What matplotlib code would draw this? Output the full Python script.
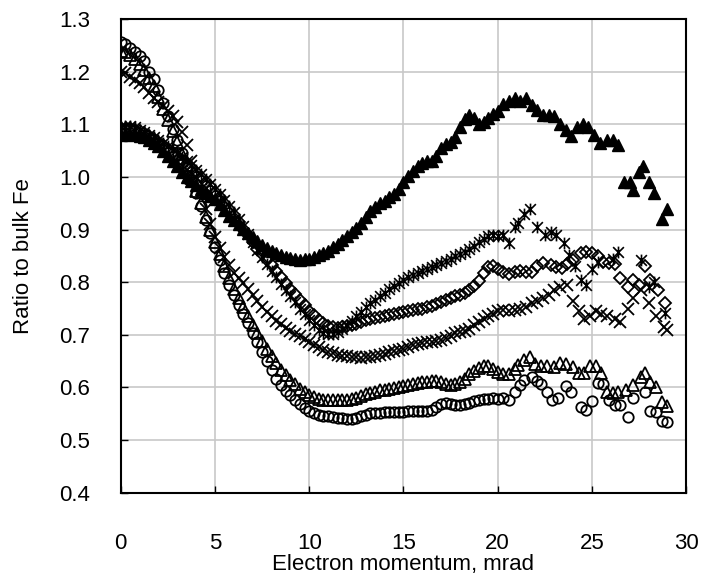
#!/usr/bin/env python
import numpy as np
import matplotlib
matplotlib.use("Agg")
import matplotlib.pyplot as plt
from matplotlib.path import Path

plt.rcParams['font.family'] = ['Liberation Sans', 'DejaVu Sans']

# momentum grid of the dense part (mrad), 0 .. 19.75
x_dense = np.arange(80) * 0.25

# filled triangles
tri_f = [1.080, 1.082, 1.080, 1.081, 1.078, 1.075, 1.070, 1.064, 1.058, 1.050,
         1.040, 1.030, 1.020, 1.010, 1.000, 0.993, 0.985, 0.978, 0.970, 0.964,
         0.958, 0.948, 0.937, 0.926, 0.918, 0.910, 0.901, 0.893, 0.886, 0.879,
         0.871, 0.865, 0.860, 0.855, 0.851, 0.848, 0.846, 0.844, 0.843, 0.844,
         0.845, 0.848, 0.851, 0.855, 0.860, 0.866, 0.873, 0.880, 0.888, 0.895,
         0.903, 0.913, 0.923, 0.935, 0.943, 0.950, 0.955, 0.962, 0.968, 0.978,
         0.990, 1.002, 1.012, 1.020, 1.027, 1.030, 1.031, 1.040, 1.055, 1.062,
         1.066, 1.075, 1.095, 1.110, 1.118, 1.112, 1.100, 1.104, 1.112, 1.120]
tri_f_tx = [20.0, 20.3, 20.6, 20.9, 21.2, 21.5, 21.8, 22.1, 22.4, 22.7, 23.0, 23.3,
            23.6, 23.9, 24.2, 24.5, 24.8, 25.1, 25.4, 25.8, 26.1, 26.4, 26.7, 27.0,
            27.2, 27.5, 27.7, 28.0, 28.3, 28.7, 29.0]
tri_f_ty = [1.125, 1.138, 1.145, 1.150, 1.145, 1.150, 1.137, 1.128, 1.118, 1.118, 1.115, 1.100,
            1.090, 1.078, 1.095, 1.100, 1.095, 1.080, 1.065, 1.070, 1.070, 1.060, 0.990, 0.990,
            0.975, 1.010, 1.020, 0.990, 0.970, 0.920, 0.940]

# asterisks
star = [1.095, 1.097, 1.096, 1.094, 1.090, 1.086, 1.080, 1.075, 1.070, 1.064,
        1.058, 1.051, 1.045, 1.038, 1.031, 1.023, 1.014, 1.005, 0.996, 0.987,
        0.977, 0.967, 0.957, 0.945, 0.933, 0.920, 0.906, 0.891, 0.876, 0.861,
        0.847, 0.834, 0.822, 0.810, 0.797, 0.785, 0.774, 0.762, 0.750, 0.739,
        0.728, 0.718, 0.710, 0.704, 0.701, 0.702, 0.706, 0.712, 0.719, 0.727,
        0.735, 0.744, 0.752, 0.760, 0.767, 0.774, 0.780, 0.787, 0.793, 0.799,
        0.804, 0.809, 0.813, 0.817, 0.821, 0.825, 0.829, 0.833, 0.837, 0.841,
        0.845, 0.849, 0.853, 0.858, 0.863, 0.869, 0.876, 0.882, 0.887, 0.889]
star_tx = [20.0, 20.3, 20.6, 20.9, 21.1, 21.4, 21.7, 22.1, 22.5, 22.8, 23.1, 23.5,
           23.8, 24.1, 24.4, 24.7, 25.0, 25.3, 26.1, 26.4, 27.6, 28.0, 28.3, 28.9]
star_ty = [0.888, 0.890, 0.875, 0.905, 0.912, 0.930, 0.940, 0.905, 0.890, 0.895, 0.890, 0.875,
           0.852, 0.830, 0.805, 0.795, 0.825, 0.838, 0.845, 0.858, 0.843, 0.790, 0.800, 0.742]

# open diamonds
diam = [1.090, 1.092, 1.091, 1.090, 1.087, 1.083, 1.078, 1.072, 1.066, 1.060,
        1.053, 1.046, 1.039, 1.032, 1.025, 1.017, 1.009, 1.000, 0.991, 0.982,
        0.972, 0.962, 0.951, 0.940, 0.928, 0.915, 0.902, 0.889, 0.876, 0.864,
        0.853, 0.843, 0.832, 0.821, 0.810, 0.799, 0.788, 0.777, 0.766, 0.756,
        0.746, 0.737, 0.729, 0.722, 0.717, 0.714, 0.713, 0.714, 0.716, 0.718,
        0.721, 0.725, 0.728, 0.730, 0.732, 0.733, 0.735, 0.737, 0.739, 0.741,
        0.743, 0.745, 0.747, 0.749, 0.750, 0.752, 0.754, 0.758, 0.763, 0.767,
        0.770, 0.773, 0.776, 0.780, 0.785, 0.793, 0.803, 0.817, 0.828, 0.830]
diam_tx = [20.0, 20.3, 20.6, 20.9, 21.2, 21.5, 21.8, 22.1, 22.4, 22.8, 23.1, 23.4,
           23.7, 24.0, 24.4, 24.7, 25.0, 25.3, 25.6, 25.9, 26.2, 26.5, 26.9, 27.2,
           27.5, 27.8, 28.1, 28.5, 28.9]
diam_ty = [0.826, 0.820, 0.816, 0.820, 0.822, 0.820, 0.820, 0.830, 0.837, 0.833, 0.828, 0.827,
           0.835, 0.842, 0.855, 0.858, 0.855, 0.850, 0.838, 0.836, 0.835, 0.808, 0.790, 0.805,
           0.795, 0.830, 0.805, 0.786, 0.760]

# crosses
cross = [1.200, 1.198, 1.190, 1.184, 1.178, 1.170, 1.160, 1.150, 1.142, 1.134,
         1.126, 1.115, 1.105, 1.085, 1.060, 1.030, 1.000, 0.970, 0.940, 0.910,
         0.885, 0.865, 0.848, 0.832, 0.818, 0.808, 0.798, 0.787, 0.776, 0.765,
         0.753, 0.743, 0.735, 0.727, 0.720, 0.713, 0.707, 0.702, 0.697, 0.692,
         0.686, 0.681, 0.676, 0.672, 0.668, 0.665, 0.662, 0.660, 0.659, 0.657,
         0.657, 0.656, 0.657, 0.658, 0.659, 0.662, 0.664, 0.667, 0.670, 0.672,
         0.674, 0.677, 0.680, 0.682, 0.684, 0.686, 0.687, 0.688, 0.690, 0.694,
         0.698, 0.703, 0.705, 0.708, 0.712, 0.718, 0.725, 0.730, 0.735, 0.740]
cross_tx = [20.0, 20.3, 20.6, 20.9, 21.2, 21.5, 21.8, 22.1, 22.4, 22.7, 23.0, 23.3,
            23.7, 24.0, 24.3, 24.6, 24.9, 25.2, 25.5, 25.8, 26.2, 26.5, 26.9, 27.2,
            27.6, 28.0, 28.4, 28.8, 29.0]
cross_ty = [0.745, 0.748, 0.745, 0.748, 0.750, 0.752, 0.760, 0.765, 0.770, 0.775, 0.785, 0.790,
            0.795, 0.765, 0.745, 0.730, 0.735, 0.745, 0.740, 0.735, 0.730, 0.725, 0.750, 0.770,
            0.785, 0.760, 0.735, 0.715, 0.710]

# open triangles
tri_o = [1.240, 1.238, 1.232, 1.225, 1.215, 1.203, 1.188, 1.172, 1.152, 1.130,
         1.108, 1.087, 1.066, 1.044, 1.022, 0.998, 0.974, 0.950, 0.924, 0.900,
         0.876, 0.853, 0.830, 0.808, 0.788, 0.770, 0.753, 0.736, 0.719, 0.703,
         0.688, 0.673, 0.659, 0.646, 0.634, 0.624, 0.614, 0.606, 0.598, 0.591,
         0.586, 0.582, 0.579, 0.577, 0.576, 0.576, 0.577, 0.576, 0.577, 0.578,
         0.580, 0.583, 0.587, 0.590, 0.592, 0.595, 0.596, 0.597, 0.599, 0.601,
         0.603, 0.605, 0.607, 0.609, 0.610, 0.611, 0.612, 0.612, 0.610, 0.606,
         0.604, 0.607, 0.611, 0.617, 0.625, 0.632, 0.637, 0.640, 0.641, 0.636]
tri_o_tx = [20.0, 20.3, 20.6, 20.9, 21.1, 21.4, 21.7, 22.0, 22.3, 22.6, 23.0, 23.3,
            23.6, 24.0, 24.3, 24.6, 24.9, 25.2, 25.5, 25.8, 26.1, 26.4, 26.8, 27.2,
            27.6, 27.8, 28.1, 28.4, 28.7, 29.0]
tri_o_ty = [0.630, 0.625, 0.625, 0.635, 0.642, 0.653, 0.657, 0.645, 0.640, 0.640, 0.638, 0.647,
            0.645, 0.638, 0.628, 0.628, 0.640, 0.640, 0.628, 0.592, 0.590, 0.592, 0.596, 0.605,
            0.620, 0.628, 0.611, 0.600, 0.573, 0.565]

# open circles
circ = [1.256, 1.252, 1.245, 1.238, 1.230, 1.220, 1.200, 1.186, 1.165, 1.140,
        1.115, 1.092, 1.070, 1.045, 1.020, 0.995, 0.970, 0.945, 0.918, 0.893,
        0.866, 0.842, 0.818, 0.795, 0.775, 0.756, 0.740, 0.722, 0.703, 0.686,
        0.668, 0.650, 0.633, 0.617, 0.604, 0.594, 0.585, 0.577, 0.569, 0.561,
        0.555, 0.551, 0.548, 0.546, 0.545, 0.543, 0.542, 0.542, 0.541, 0.541,
        0.542, 0.545, 0.548, 0.551, 0.551, 0.552, 0.553, 0.554, 0.554, 0.553,
        0.554, 0.555, 0.556, 0.555, 0.556, 0.555, 0.558, 0.563, 0.568, 0.570,
        0.568, 0.566, 0.566, 0.568, 0.571, 0.574, 0.577, 0.578, 0.578, 0.580]
circ_tx = [20.0, 20.3, 20.6, 20.9, 21.2, 21.4, 21.8, 22.1, 22.3, 22.6, 22.9, 23.2,
           23.6, 23.9, 24.4, 24.7, 25.0, 25.3, 25.6, 25.9, 26.2, 26.5, 26.9, 27.2,
           27.8, 28.1, 28.4, 28.7, 29.0]
circ_ty = [0.578, 0.580, 0.577, 0.592, 0.605, 0.615, 0.619, 0.612, 0.606, 0.592, 0.577, 0.580,
           0.602, 0.592, 0.563, 0.558, 0.575, 0.609, 0.606, 0.577, 0.567, 0.567, 0.543, 0.580,
           0.592, 0.556, 0.553, 0.536, 0.535]

# X plus vertical bar, like the spreadsheet "star" marker
star_marker = Path([(-1, -1), (1, 1), (-1, 1), (1, -1), (0, -1.1), (0, 1.1)],
                   [Path.MOVETO, Path.LINETO, Path.MOVETO, Path.LINETO, Path.MOVETO, Path.LINETO])

fig = plt.figure(figsize=(7.06, 5.77), dpi=100)
ax = fig.add_axes([0.171, 0.146, 0.801, 0.821])

def series(xa, ya, xt, yt, **kw):
    xx = np.concatenate([xa, xt])
    yy = np.concatenate([ya, yt])
    ax.plot(xx, yy, linestyle='none', **kw)

series(x_dense, circ, circ_tx, circ_ty, marker='o', ms=7.5, mfc='none', mec='black', mew=1.3)
series(x_dense, tri_o, tri_o_tx, tri_o_ty, marker='^', ms=8.5, mfc='none', mec='black', mew=1.3)
series(x_dense, cross, cross_tx, cross_ty, marker='x', ms=8.5, mec='black', mew=1.3)
series(x_dense, diam, diam_tx, diam_ty, marker='D', ms=6.5, mfc='none', mec='black', mew=1.3)
series(x_dense, star, star_tx, star_ty, marker=star_marker, ms=8.5, mec='black', mew=1.2)
series(x_dense, tri_f, tri_f_tx, tri_f_ty, marker='^', ms=9, mfc='black', mec='black')

ax.set_xlim(0, 30)
ax.set_ylim(0.4, 1.3)
ax.set_xticks(np.arange(0, 31, 5))
ax.set_yticks(np.arange(0.4, 1.31, 0.1))
ax.yaxis.set_major_formatter(matplotlib.ticker.FormatStrFormatter('%.1f'))
ax.grid(True, color='#c8c8c8', linewidth=1.2)
ax.set_axisbelow(True)
ax.tick_params(direction='in', length=5, width=1, labelsize=16)
ax.tick_params(axis='x', pad=29)
ax.tick_params(axis='y', pad=22)
for s in ax.spines.values():
    s.set_linewidth(1.5)
    s.set_color('black')

ax.set_xlabel('Electron momentum, mrad', fontsize=16, labelpad=0)
ax.set_ylabel('Ratio to bulk Fe', fontsize=16, labelpad=18)

fig.savefig('out.png', dpi=100)
